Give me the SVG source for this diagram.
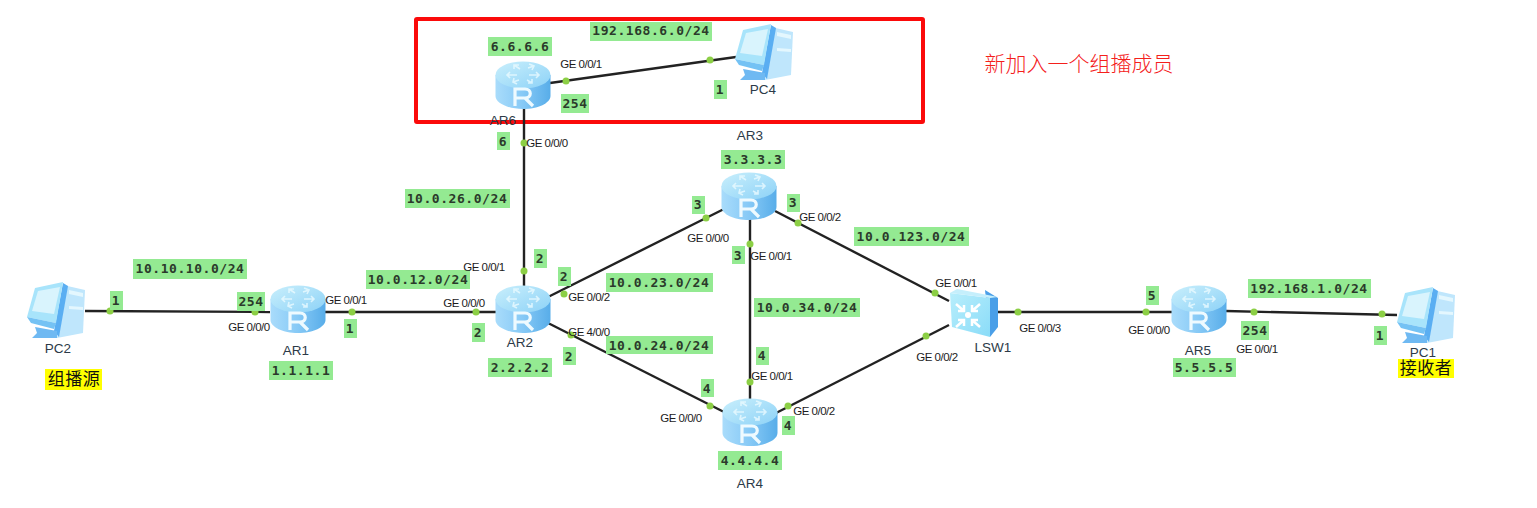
<svg xmlns="http://www.w3.org/2000/svg" xmlns:xlink="http://www.w3.org/1999/xlink" width="1537" height="508" viewBox="0 0 1537 508">
<style>
.bg{fill:#fff}
.ln{stroke:#222;stroke-width:2.4;fill:none}
.dot{fill:#8ccf45}
.g{fill:#94ea92}
.y{fill:#ffff00}
.net{font:bold 13px "DejaVu Sans Mono","Liberation Mono",monospace;fill:#2b3a2b;text-anchor:middle;letter-spacing:.55px}
.port{font:11.5px "Liberation Sans",Arial,sans-serif;fill:#1c1c1c;text-anchor:middle;letter-spacing:-.5px}
.name{font:13.500px "Liberation Sans",Arial,sans-serif;fill:#2c3a48;text-anchor:middle}
.cjk{font:17px "Noto Sans CJK SC",sans-serif;fill:#111;text-anchor:middle;letter-spacing:.5px}
.note{font:300 21px "Noto Sans CJK SC","Liberation Serif",serif;fill:#f4201c;text-anchor:middle}
</style>
<defs>
<linearGradient id="rb" x1="0" x2="1" y1="0" y2="0"><stop offset="0" stop-color="#a9dcfb"/><stop offset=".5" stop-color="#86c9f6"/><stop offset="1" stop-color="#58ade9"/></linearGradient>
<linearGradient id="rt" x1="0" x2="1" y1="0" y2="1"><stop offset="0" stop-color="#c9effc"/><stop offset="1" stop-color="#8dd2f7"/></linearGradient>
<linearGradient id="sw" x1="0" x2="1" y1="0" y2="1"><stop offset="0" stop-color="#b8eefc"/><stop offset="1" stop-color="#8adcf8"/></linearGradient>
<g id="router">
<path d="M-27.500-10V11C-27.500 18-15 24 0 24S27.500 18 27.500 11V-10Z" fill="url(#rb)"/>
<ellipse cx="0" cy="-10" rx="27.500" ry="13.500" fill="url(#rt)"/>
<g stroke="#eafaff" stroke-width="1.600" fill="none" opacity=".8"><path d="M-3-16L-9-20M-9-16V-20H-4M5-17L11-19M6-21L11-19L9-15M-4-5L-10-3M-9-7L-10-3L-6-1M4-5L9-2M9-6V-2H5M-16-10H-6M-13-13L-16-10L-13-7M16-10H6M13-13L16-10L13-7"/></g>
<path d="M-8 21V4H2C9 4 9 13 2 13H-8M2 13L10 21" fill="none" stroke="#eefaff" stroke-width="3.200"/>
</g>
<g id="pc">
<path d="M36 4L58 9L56 52L30 57Z" fill="#bfe6fc"/>
<path d="M42 9L56 12V16L42 13ZM42 25L56 26V29L42 28Z" fill="#e4f7fe"/>
<path d="M36 2L41 5L32 56L27 50Z" fill="#5aaef2"/>
<path d="M8 46L30 50V57H5L10 52Z" fill="#6fb9f2"/>
<path d="M8 7L36 1L29 42L0 36Z" fill="#a8e4fb"/>
<path d="M11 10L33 6L27 33L5 30Z" fill="#d9f4fd"/>
<path d="M0 36L29 42L27 48L4 42Z" fill="#74c2f4"/>
</g>
<g id="sw-arrows" stroke="#fff" stroke-width="2.500" fill="none"><path d="M956 304L964 311M964 305V311H958M980 304L972 311M972 305V311H978M956 327L964 320M958 320H964V326M980 327L972 320M978 320H972V326"/></g>
</defs>
<rect class="bg" width="1537" height="508"/>
<rect id="highlight-box" x="416" y="19" width="507" height="103" fill="none" stroke="#fb0a0a" stroke-width="4" rx="1"/>
<g id="connectors">
<path class="ln" d="M85 311L270 312"/>
<path class="ln" d="M325 312H496"/>
<path class="ln" d="M524 108V286"/>
<path class="ln" d="M550 83L736 57"/>
<path class="ln" d="M548 297L724 209"/>
<path class="ln" d="M548 323L724 412"/>
<path class="ln" d="M750 218V400"/>
<path class="ln" d="M775 211L949 301"/>
<path class="ln" d="M776 413L949 325"/>
<path class="ln" d="M998 312H1172"/>
<path class="ln" d="M1226 311L1397 315"/>
<g class="dot">
<circle cx="110" cy="311" r="3.500"/><circle cx="255" cy="312" r="3.500"/>
<circle cx="352" cy="312" r="3.500"/><circle cx="476" cy="312" r="3.500"/>
<circle cx="524" cy="271" r="3.500"/><circle cx="524" cy="143" r="3.500"/>
<circle cx="566" cy="81" r="3.500"/><circle cx="710" cy="60" r="3.500"/>
<circle cx="564" cy="294" r="3.500"/><circle cx="706" cy="218" r="3.500"/>
<circle cx="571" cy="335" r="3.500"/><circle cx="710" cy="406" r="3.500"/>
<circle cx="750" cy="244" r="3.500"/><circle cx="750" cy="382" r="3.500"/>
<circle cx="798" cy="223" r="3.500"/><circle cx="935" cy="293" r="3.500"/>
<circle cx="788" cy="406" r="3.500"/><circle cx="926" cy="336" r="3.500"/>
<circle cx="1018" cy="312" r="3.500"/><circle cx="1146" cy="312" r="3.500"/>
<circle cx="1254" cy="312" r="3.500"/><circle cx="1382" cy="314" r="3.500"/>
</g>
</g>
<g id="PC2"><use xlink:href="#pc" href="#pc" x="27" y="281"/><text class="name" x="58" y="353">PC2</text></g>
<g id="PC4"><use xlink:href="#pc" href="#pc" x="735" y="23"/><text class="name" x="763" y="94">PC4</text></g>
<g id="PC1"><use xlink:href="#pc" href="#pc" x="1397" y="286"/><text class="name" x="1423" y="357">PC1</text></g>
<g id="AR1"><use xlink:href="#router" href="#router" x="298" y="309"/><text class="name" x="296" y="355">AR1</text></g>
<g id="AR2"><use xlink:href="#router" href="#router" x="523" y="309"/><text class="name" x="520" y="347">AR2</text></g>
<g id="AR3"><use xlink:href="#router" href="#router" x="749" y="196"/><text class="name" x="750" y="140">AR3</text></g>
<g id="AR4"><use xlink:href="#router" href="#router" x="750" y="422"/><text class="name" x="750" y="488">AR4</text></g>
<g id="AR5"><use xlink:href="#router" href="#router" x="1199" y="309"/><text class="name" x="1198" y="355">AR5</text></g>
<g id="AR6"><use xlink:href="#router" href="#router" x="523" y="85"/><text class="name" x="503" y="125">AR6</text></g>
<g id="LSW1">
<path d="M985 290L998 298V327L990 337Z" fill="#4a9fe8"/>
<path d="M950 293L990 298V337L952 327Z" fill="url(#sw)"/>
<path d="M950 293L957 289L998 297L990 298Z" fill="#c5effc"/>
<use xlink:href="#sw-arrows" href="#sw-arrows" x="0" y="0"/>
<circle cx="968" cy="315" r="3" fill="#fff"/>
<text class="name" x="993" y="352">LSW1</text>
</g>
<g id="labels">
<g class="g">
<rect x="133" y="259" width="114" height="20"/><rect x="110" y="291" width="13" height="19"/><rect x="237" y="292" width="28" height="19"/><rect x="344" y="319" width="13" height="19"/>
<rect x="269" y="361" width="64" height="19"/><rect x="366" y="270" width="104" height="19"/><rect x="472" y="323" width="13" height="19"/><rect x="488" y="358" width="64" height="19"/>
<rect x="405" y="189" width="105" height="19"/><rect x="534" y="249" width="13" height="19"/><rect x="558" y="267" width="13" height="19"/><rect x="497" y="132" width="13" height="18"/>
<rect x="488" y="37" width="64" height="19"/><rect x="590" y="22" width="122" height="19"/><rect x="561" y="94" width="28" height="19"/><rect x="714" y="80" width="13" height="19"/>
<rect x="721" y="150" width="64" height="19"/><rect x="692" y="196" width="13" height="18"/><rect x="787" y="194" width="13" height="18"/><rect x="732" y="246" width="13" height="18"/>
<rect x="606" y="273" width="107" height="19"/><rect x="606" y="336" width="107" height="18"/><rect x="563" y="347" width="13" height="18"/><rect x="701" y="379" width="13" height="18"/>
<rect x="756" y="347" width="13" height="18"/><rect x="782" y="416" width="13" height="19"/><rect x="718" y="451" width="64" height="19"/><rect x="754" y="298" width="106" height="19"/>
<rect x="854" y="227" width="115" height="19"/><rect x="1146" y="286" width="13" height="19"/><rect x="1173" y="358" width="63" height="19"/><rect x="1248" y="279" width="123" height="19"/>
<rect x="1241" y="321" width="28" height="19"/><rect x="1374" y="326" width="13" height="19"/>
</g>
<rect class="y" x="45" y="369" width="57" height="21"/>
<rect class="y" x="1398" y="359" width="56" height="19"/>
<text class="net" x="190" y="273">10.10.10.0/24</text><text class="net" x="116" y="305">1</text><text class="net" x="251" y="306">254</text><text class="net" x="350" y="333">1</text>
<text class="net" x="301" y="375">1.1.1.1</text><text class="net" x="418" y="284">10.0.12.0/24</text><text class="net" x="478" y="337">2</text><text class="net" x="520" y="372">2.2.2.2</text>
<text class="net" x="457" y="203">10.0.26.0/24</text><text class="net" x="540" y="263">2</text><text class="net" x="564" y="281">2</text><text class="net" x="503" y="146">6</text>
<text class="net" x="520" y="51">6.6.6.6</text><text class="net" x="651" y="35">192.168.6.0/24</text><text class="net" x="575" y="108">254</text><text class="net" x="720" y="94">1</text>
<text class="net" x="753" y="164">3.3.3.3</text><text class="net" x="698" y="209">3</text><text class="net" x="793" y="207">3</text><text class="net" x="738" y="260">3</text>
<text class="net" x="659" y="287">10.0.23.0/24</text><text class="net" x="659" y="350">10.0.24.0/24</text><text class="net" x="569" y="361">2</text><text class="net" x="707" y="393">4</text>
<text class="net" x="762" y="360">4</text><text class="net" x="788" y="430">4</text><text class="net" x="750" y="465">4.4.4.4</text><text class="net" x="807" y="312">10.0.34.0/24</text>
<text class="net" x="911" y="241">10.0.123.0/24</text><text class="net" x="1152" y="300">5</text><text class="net" x="1204" y="372">5.5.5.5</text><text class="net" x="1309" y="293">192.168.1.0/24</text>
<text class="net" x="1255" y="335">254</text><text class="net" x="1380" y="340">1</text>
<text class="port" x="249" y="331">GE 0/0/0</text><text class="port" x="346" y="304">GE 0/0/1</text><text class="port" x="464" y="307">GE 0/0/0</text>
<text class="port" x="484" y="271">GE 0/0/1</text><text class="port" x="547" y="147">GE 0/0/0</text><text class="port" x="581" y="68">GE 0/0/1</text>
<text class="port" x="589" y="301">GE 0/0/2</text><text class="port" x="589" y="336">GE 4/0/0</text><text class="port" x="708" y="242">GE 0/0/0</text>
<text class="port" x="771" y="260">GE 0/0/1</text><text class="port" x="820" y="221">GE 0/0/2</text><text class="port" x="772" y="380">GE 0/0/1</text>
<text class="port" x="681" y="422">GE 0/0/0</text><text class="port" x="814" y="415">GE 0/0/2</text><text class="port" x="956" y="287">GE 0/0/1</text>
<text class="port" x="937" y="361">GE 0/0/2</text><text class="port" x="1040" y="332">GE 0/0/3</text><text class="port" x="1149" y="334">GE 0/0/0</text>
<text class="port" x="1257" y="353">GE 0/0/1</text>
<text class="cjk" x="74" y="385">组播源</text>
<text class="cjk" x="1426" y="374">接收者</text>
<text class="note" x="1079" y="71">新加入一个组播成员</text>
</g>
</svg>
